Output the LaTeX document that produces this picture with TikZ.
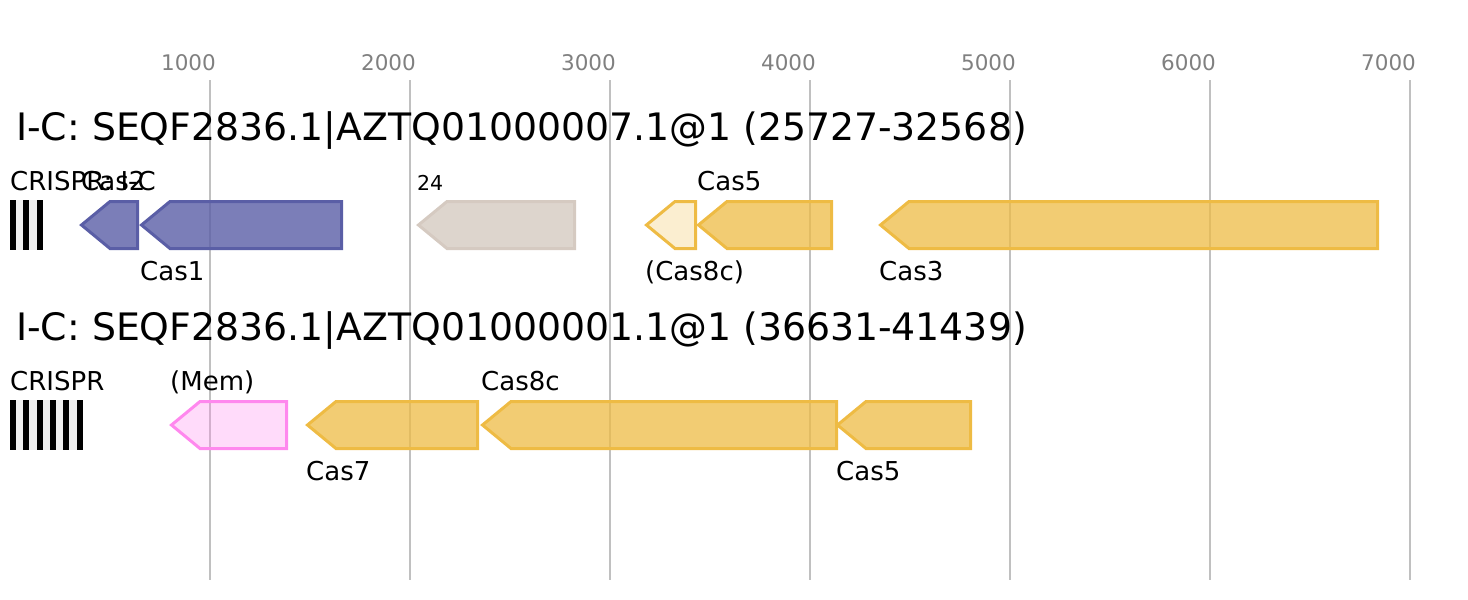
\documentclass[tikz,border=0pt]{standalone}
\usepackage{fontspec}
\setmainfont{DejaVu Sans}
\definecolor{gridc}{HTML}{C0C0C0}
\definecolor{tickc}{HTML}{808080}
\definecolor{bluec}{HTML}{5A5EA6}
\definecolor{grayc}{HTML}{D5CAC1}
\definecolor{yelc}{HTML}{EEBB44}
\definecolor{pinkc}{HTML}{FF88EE}
\definecolor{crisgray}{HTML}{F0F0F0}
\tikzset{
  gridline/.style={draw=gridc, line width=2pt},
  ticklabel/.style={text=tickc, font=\fontsize{21.5}{24}\selectfont, inner sep=0pt},
  titlelabel/.style={font=\fontsize{37.8}{42}\selectfont, anchor=base west, inner sep=0pt},
  genelabel/.style={font=\fontsize{26}{30}\selectfont, anchor=base west, inner sep=0pt},
  smalllabel/.style={font=\fontsize{20.5}{23}\selectfont, anchor=base west, inner sep=0pt},
  gene/.style={line width=3pt, line join=miter},
  bluegene/.style={gene, draw=bluec, fill=bluec, fill opacity=0.8},
  graygene/.style={gene, draw=grayc, fill=grayc, fill opacity=0.8},
  yelgene/.style={gene, draw=yelc, fill=yelc, fill opacity=0.75},
  paleyelgene/.style={gene, draw=yelc, fill=yelc, fill opacity=0.25},
  pinkgene/.style={gene, draw=pinkc, fill=pinkc, fill opacity=0.3},
  crisbar/.style={fill=black},
}
% \genearrow{style}{tip x}{right x}{center y}
\newcommand{\genearrow}[4]{%
  \draw[#1] (#2+1.5,#4) -- (#2+30,#4-23.5) -- (#3-1.5,#4-23.5) -- (#3-1.5,#4+23.5) -- (#2+30,#4+23.5) -- cycle;}
\begin{document}
\begin{tikzpicture}[x=1pt,y=-1pt]
\useasboundingbox (0,0) rectangle (1468,600);
% grid
\foreach \v/\xx in {1000/210,2000/410,3000/610,4000/810,5000/1010,6000/1210,7000/1410}{
  \draw[gridline] (\xx,80) -- (\xx,580);
  \node[ticklabel] (t\v) at (\xx-21.5,63) {\v};
}
% titles
\node[titlelabel] (title1) at (16,140) {I-C: SEQF2836.1|AZTQ01000007.1@1 (25727-32568)};
\node[titlelabel] (title2) at (16,340) {I-C: SEQF2836.1|AZTQ01000001.1@1 (36631-41439)};
% CRISPR arrays
\fill[crisgray] (10,200) rectangle (42.7,250);
\foreach \i in {0,1,2}{ \fill[crisbar] (10+13.33*\i,200) rectangle (16+13.33*\i,250); }
\fill[crisgray] (10,400) rectangle (82.7,450);
\foreach \i in {0,...,5}{ \fill[crisbar] (10+13.33*\i,400) rectangle (16+13.33*\i,450); }
% row 1 genes
\genearrow{bluegene}{80}{139}{225}
\genearrow{bluegene}{140}{343}{225}
\genearrow{graygene}{417}{576}{225}
\genearrow{paleyelgene}{645}{697}{225}
\genearrow{yelgene}{697}{833}{225}
\genearrow{yelgene}{879}{1379}{225}
% row 2 genes
\genearrow{pinkgene}{170}{288}{425}
\genearrow{yelgene}{306}{479}{425}
\genearrow{yelgene}{481}{838}{425}
\genearrow{yelgene}{836}{972}{425}
% row 1 labels
\node[genelabel] (l1a) at (10,190) {CRISPR: I-C};
\node[genelabel] (l1b) at (81,190) {Cas2};
\node[genelabel] (l1c) at (140,280) {Cas1};
\node[smalllabel] (l1d) at (417,190) {24};
\node[genelabel] (l1e) at (645,280) {(Cas8c)};
\node[genelabel] (l1f) at (697,190) {Cas5};
\node[genelabel] (l1g) at (879,280) {Cas3};
% row 2 labels
\node[genelabel] (l2a) at (10,390) {CRISPR};
\node[genelabel] (l2b) at (170,390) {(Mem)};
\node[genelabel] (l2c) at (306,480) {Cas7};
\node[genelabel] (l2d) at (481,390) {Cas8c};
\node[genelabel] (l2e) at (836,480) {Cas5};
\end{tikzpicture}
\end{document}
